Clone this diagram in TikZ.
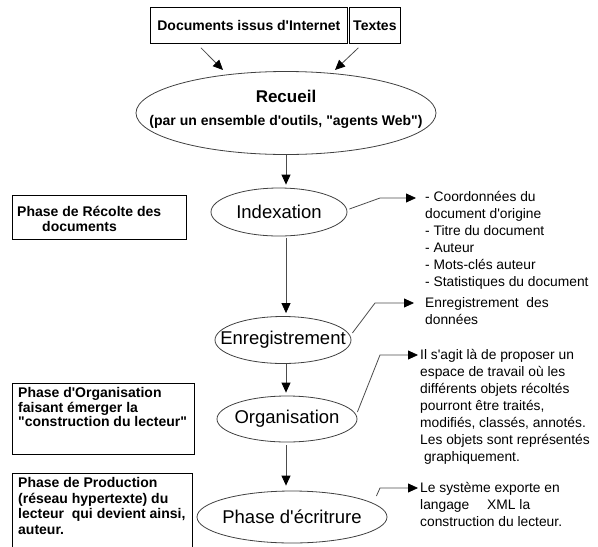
\documentclass[tikz,border=0pt]{standalone}
\usepackage{fontspec}
\setmainfont{Liberation Sans}[Ligatures=TeXOff]
\usetikzlibrary{shapes.geometric,arrows.meta}
\begin{document}
\begin{tikzpicture}[x=1pt,y=-1pt,
  ln/.style={draw=black!70, line width=0.8pt},
  arr/.style={ln,-{Triangle[length=10pt,width=9pt,color=black]}},
  ell/.style={ellipse, draw=black!75, line width=0.8pt, inner sep=0pt},
  elltext/.style={font=\fontsize{18.5}{22}\selectfont},
  box/.style={draw=black, line width=0.8pt, anchor=north west, inner sep=0pt},
  topbox/.style={box, minimum height=36pt, font=\fontsize{14}{16}\selectfont\bfseries},
  boxtext/.style={anchor=north west, inner sep=0pt, align=left, font=\fontsize{14}{15}\selectfont\bfseries},
  desc/.style={anchor=north west, inner sep=0pt, align=left, font=\fontsize{13.8}{17}\selectfont},
]
\useasboundingbox (0,0) rectangle (598,547);

% top boxes
\node[topbox, minimum width=197pt] (docs) at (150,7) {Documents issus d'Internet};
\node[topbox, minimum width=51pt] (textes) at (349,7) {Textes};

% Recueil
\node[ell, minimum width=300pt, minimum height=83pt] (recueil) at (286,113) {};
\node[font=\bfseries\fontsize{14}{16}\selectfont, align=center, inner sep=0pt] (recueiltxt) at (286,109)
  {{\fontsize{17}{20}\selectfont Recueil}\\[7pt](par un ensemble d'outils, "agents Web")};

\coordinate (tipA) at (223,70);
\coordinate (tipB) at (335,70);
\draw[arr] ([shift={(-48,4)}]docs.south) -- (tipA);
\draw[arr] ([shift={(-16.5,4)}]textes.south) -- (tipB);

% ellipses
\node[ell, minimum width=136pt, minimum height=48pt, label={[elltext]center:Indexation}] (index) at (279,212) {};
\node[ell, minimum width=136pt, minimum height=47pt, label={[elltext]center:Enregistrement}] (enreg) at (283,340) {};
\node[ell, minimum width=140pt, minimum height=46pt, label={[elltext]center:Organisation}] (organ) at (287,419) {};
\node[ell, minimum width=190pt, minimum height=52pt, label={[elltext]center:Phase d'écritrure}] (phase) at (292,517) {};

% vertical arrows
\coordinate (ax) at (286,0);
\draw[arr, shorten >=3pt] (recueil.south -| ax) -- (index.north -| ax);
\draw[arr, shorten <=2pt, shorten >=3pt] (index.south -| ax) -- (enreg.north -| ax);
\draw[arr, shorten >=3pt] (enreg.south -| ax) -- (organ.north -| ax);
\draw[arr, shorten <=3pt, shorten >=5pt] (organ.south -| ax) -- (phase.north -| ax);

% right connectors
\coordinate (r1) at (416,198);
\coordinate (r2) at (414,303);
\coordinate (r3) at (418,355);
\coordinate (r4) at (418,488);
\draw[arr] ([shift={(2,-3)}]index.east) -- ([xshift=-36pt]r1) -- (r1);
\draw[arr] ([shift={(1,-7)}]enreg.east) -- ([xshift=-39pt]r2) -- (r2);
\draw[arr] ([shift={(0,-7)}]organ.east) -- ([xshift=-38pt]r3) -- (r3);
\draw[arr] ([shift={(-11,-21)}]phase.east) -- ([xshift=-38pt]r4) -- (r4);

% right texts
\node[desc] (d1) at (425,191.5) {- Coordonnées du\\document d'origine\\- Titre du document\\- Auteur\\- Mots-clés auteur\\- Statistiques du document};
\node[desc] (d2) at (425,297.5) {Enregistrement\ \ des\\données};
\node[desc] (d3) at (420,349.5) {Il s'agit là de proposer un\\espace de travail où les\\différents objets récoltés\\pourront être traités,\\modifiés, classés, annotés.\\Les objets sont représentés\\\ graphiquement.};
\node[desc] (d4) at (420,482.5) {Le système exporte en\\langage\hspace{1.3em}XML la\\construction du lecteur.};

% left boxes
\node[box, minimum width=174pt, minimum height=44pt] (b1) at (12,195) {};
\node[boxtext] (b1t) at (17,206.5) {Phase de Récolte des\\\hspace*{25pt}documents};
\node[box, minimum width=182pt, minimum height=71pt] (b2) at (12,383) {};
\node[boxtext, font=\fontsize{14}{14.5}\selectfont\bfseries] (b2t) at (18,387.5) {Phase d'Organisation\\faisant émerger la\\"construction du lecteur"};
\draw[draw=black, line width=0.8pt] (12,548) -- (12,473) -- (192,473) -- (192,548);
\node[boxtext, font=\fontsize{14}{15.5}\selectfont\bfseries] (b3t) at (18,477.5) {Phase de Production\\(réseau hypertexte) du\\lecteur\ \ qui devient ainsi,\\auteur.};
\end{tikzpicture}
\end{document}
